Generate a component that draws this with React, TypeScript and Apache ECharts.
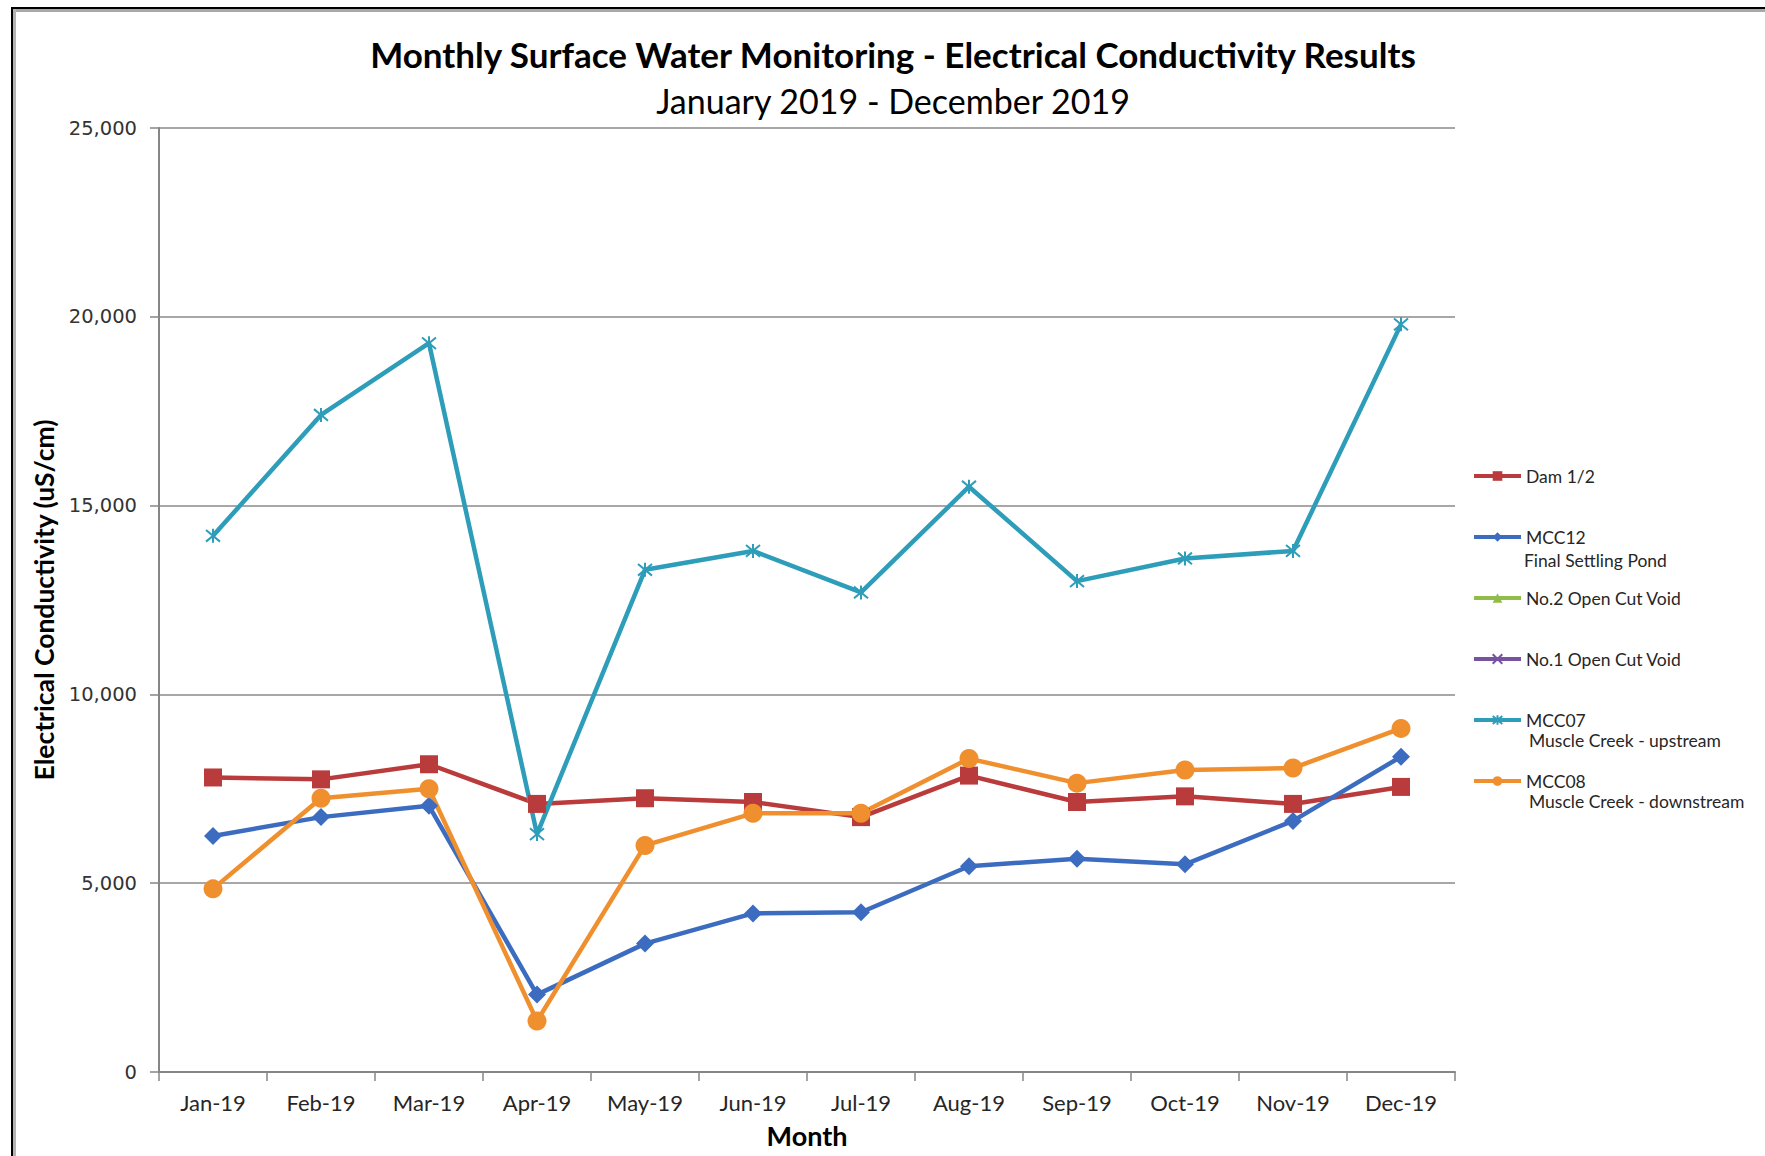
import React, { useEffect, useRef } from 'react';
import * as echarts from 'echarts';

const months = ['Jan-19', 'Feb-19', 'Mar-19', 'Apr-19', 'May-19', 'Jun-19', 'Jul-19', 'Aug-19', 'Sep-19', 'Oct-19', 'Nov-19', 'Dec-19'];
const dam12 = [7800, 7750, 8150, 7100, 7250, 7150, 6750, 7850, 7150, 7300, 7100, 7550];
const mcc12 = [6250, 6750, 7050, 2050, 3400, 4200, 4230, 5450, 5650, 5500, 6650, 8350];
const no2OpenCutVoid: (number | null)[] = [];
const no1OpenCutVoid: (number | null)[] = [];
const mcc07 = [14200, 17400, 19300, 6300, 13300, 13800, 12700, 15500, 13000, 13600, 13800, 19800];
const mcc08 = [4850, 7250, 7500, 1350, 6000, 6850, 6850, 8300, 7650, 8000, 8050, 9100];

const seriesNames = ['Dam 1/2', 'MCC12', 'No.2 Open Cut Void', 'No.1 Open Cut Void', 'MCC07', 'MCC08'];
const legendSecondLines = ['Final Settling Pond', 'Muscle Creek - upstream', 'Muscle Creek - downstream'];

const yMin = 0;
const yMax = 25000;
const yInterval = 5000;

const FONT = 'Lato, "Open Sans", sans-serif';

export default function App() {
  const ref = useRef<HTMLDivElement>(null);

  useEffect(() => {
    if (!ref.current) return;
    const chart = echarts.init(ref.current, undefined, { renderer: 'svg' });

    const lineSeries = (name: string, data: (number | null)[], color: string, symbol: string, symbolSize: number, extra: any = {}) => ({
      name,
      type: 'line',
      data,
      symbol,
      symbolSize,
      smooth: false,
      lineStyle: { color, width: 4.5 },
      itemStyle: { color, ...(extra.itemStyle || {}) },
      emphasis: { disabled: true },
    });

    const starPath = 'path://M0,0L10,10M10,0L0,10M5,-1L5,11';
    const xPath = 'path://M0,0L10,10M10,0L0,10';

    const option: any = {
      animation: false,
      backgroundColor: '#ffffff',
      title: [
        {
          text: 'Monthly Surface Water Monitoring - Electrical Conductivity Results',
          left: 893,
          top: 33,
          textAlign: 'center',
          padding: 0,
          textStyle: { fontFamily: FONT, fontWeight: 'bold', fontSize: 35, lineHeight: 42, color: '#000' },
        },
        {
          text: 'January 2019 - December 2019',
          left: 893,
          top: 80,
          textAlign: 'center',
          padding: 0,
          textStyle: { fontFamily: FONT, fontWeight: 'normal', fontSize: 34, lineHeight: 40, color: '#000' },
        },
      ],
      legend: {
        orient: 'vertical',
        left: 1472,
        top: 466,
        padding: 0,
        itemWidth: 47,
        itemHeight: 12,
        itemGap: 41,
        data: seriesNames,
        lineStyle: { width: 4 },
        textStyle: { fontFamily: FONT, fontSize: 17.5, color: '#262626', lineHeight: 20 },
        selectedMode: false,
      },
      grid: { left: 159, right: 310, top: 128, bottom: 84 },
      xAxis: {
        type: 'category',
        data: months,
        boundaryGap: true,
        axisLine: { show: true, lineStyle: { color: '#868686', width: 2 } },
        axisTick: { show: true, length: 9, interval: 0, lineStyle: { color: '#868686', width: 1.5 } },
        axisLabel: { interval: 0, margin: 19, fontFamily: FONT, fontSize: 22, color: '#262626' },
        splitLine: { show: false },
        name: 'Month',
        nameLocation: 'middle',
        nameGap: 50,
        nameTextStyle: { fontFamily: FONT, fontWeight: 'bold', fontSize: 27, color: '#000' },
      },
      yAxis: {
        type: 'value',
        min: yMin,
        max: yMax,
        interval: yInterval,
        axisLine: { show: true, lineStyle: { color: '#868686', width: 2 } },
        axisTick: { show: true, length: 9, lineStyle: { color: '#868686', width: 1.5 } },
        axisLabel: {
          margin: 22,
          fontFamily: '"DejaVu Sans", Verdana, sans-serif',
          fontSize: 19.5,
          color: '#333',
          formatter: (v: number) => v.toLocaleString('en-US'),
        },
        splitLine: { show: true, lineStyle: { color: '#8a8a8a', width: 1.5 } },
        name: 'Electrical Conductivity (uS/cm)',
        nameLocation: 'middle',
        nameGap: 98,
        nameRotate: 90,
        nameTextStyle: { fontFamily: FONT, fontWeight: 'bold', fontSize: 26.5, color: '#000' },
      },
      series: [
        lineSeries(seriesNames[0], dam12, '#BA3B3B', 'rect', 18),
        lineSeries(seriesNames[1], mcc12, '#3C6CC0', 'diamond', 18),
        lineSeries(seriesNames[2], no2OpenCutVoid, '#92BC4A', 'triangle', 14),
        lineSeries(seriesNames[3], no1OpenCutVoid, '#7652A0', xPath, 13, { itemStyle: { borderColor: '#7652A0', borderWidth: 2 } }),
        lineSeries(seriesNames[4], mcc07, '#2E9DBA', starPath, 14, { itemStyle: { borderColor: '#2E9DBA', borderWidth: 2 } }),
        lineSeries(seriesNames[5], mcc08, '#F08F2E', 'circle', 19),
      ],
      graphic: [
        { type: 'rect', silent: true, shape: { x: 11, y: 7, width: 1754, height: 2 }, style: { fill: '#000' } },
        { type: 'rect', silent: true, shape: { x: 13, y: 9, width: 1752, height: 3 }, style: { fill: '#a8a8a8' } },
        { type: 'rect', silent: true, shape: { x: 11, y: 7, width: 2, height: 1149 }, style: { fill: '#000' } },
        { type: 'rect', silent: true, shape: { x: 13, y: 9, width: 3, height: 1147 }, style: { fill: '#b4b4b4' } },
        {
          type: 'text', silent: true, x: 1524, y: 560,
          style: { text: legendSecondLines[0], fontFamily: FONT, fontSize: 17.5, fill: '#262626', verticalAlign: 'middle' },
        },
        {
          type: 'text', silent: true, x: 1529, y: 740,
          style: { text: legendSecondLines[1], fontFamily: FONT, fontSize: 17.5, fill: '#262626', verticalAlign: 'middle' },
        },
        {
          type: 'text', silent: true, x: 1529, y: 801,
          style: { text: legendSecondLines[2], fontFamily: FONT, fontSize: 17.5, fill: '#262626', verticalAlign: 'middle' },
        },
      ],
    };

    chart.setOption(option);
    return () => chart.dispose();
  }, []);

  return (
    <div
      ref={ref}
      style={{ position: 'absolute', left: 0, top: 0, width: 1765, height: 1156, background: '#fff' }}
    />
  );
}
